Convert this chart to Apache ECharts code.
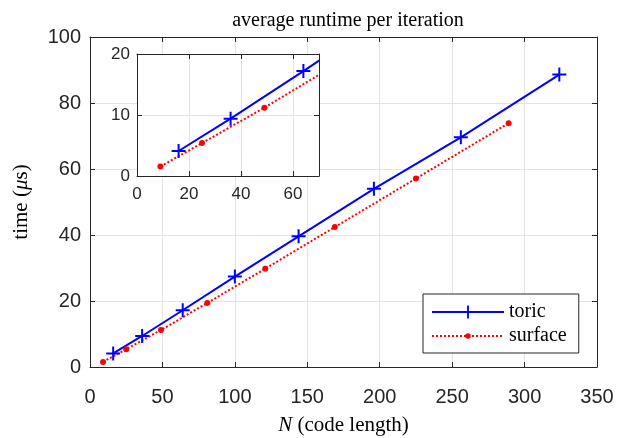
<!DOCTYPE html>
<html>
<head>
<meta charset="utf-8">
<script src="https://cdn.jsdelivr.net/npm/echarts@6/dist/echarts.min.js"></script>
<style>
  html, body { margin: 0; padding: 0; background: #fff; }
  #main { width: 619px; height: 438px; }
</style>
</head>
<body>
<div id="main"></div>
<script>
// code length N and runtime (us)
var toricN = [16, 36, 64, 100, 144, 196, 256, 324];
var toricTime = [4.1, 9.4, 17.2, 27.4, 39.6, 54.0, 69.6, 88.6];
var surfaceN = [9, 25, 49, 81, 121, 169, 225, 289];
var surfaceTime = [1.55, 5.4, 11.2, 19.4, 29.8, 42.4, 57.1, 73.9];

var chart = echarts.init(document.getElementById('main'));

var axisCol = '#262626';
var gridCol = '#e3e3e3';
var serif = 'Liberation Serif';
var sans = 'Liberation Sans';
var crossPath = 'path://M6,0h2v6h6v2h-6v6h-2v-6h-6v-2h6z';
// small dot inside a 14x14 box so the legend icon stays small too
var dotPath = 'path://M0,0M14,14M4,7a3,3 0 1,0 6,0a3,3 0 1,0 -6,0z';

function pairs(xs, ys) {
  return xs.map(function (x, i) { return [x, ys[i]]; });
}

function boxAxis(opts) {
  // shared look of axes: dark line, inward ticks
  return Object.assign({
    type: 'value',
    axisLine: { show: true, onZero: false, lineStyle: { color: axisCol, width: 1 } },
    axisTick: { show: true, inside: true, length: 5, lineStyle: { color: axisCol } },
    splitLine: { show: false },
    axisLabel: { show: false }
  }, opts);
}

function toricSeries(xi, yi, z) {
  return {
    name: 'toric', type: 'line', xAxisIndex: xi, yAxisIndex: yi, z: z,
    data: pairs(toricN, toricTime),
    symbol: crossPath, symbolSize: 14,
    lineStyle: { color: '#0000ff', width: 2 },
    itemStyle: { color: '#0000ff' },
    animation: false
  };
}

function surfaceSeries(xi, yi, z) {
  return {
    name: 'surface', type: 'line', xAxisIndex: xi, yAxisIndex: yi, z: z,
    data: pairs(surfaceN, surfaceTime),
    symbol: dotPath, symbolSize: 14,
    lineStyle: { color: '#ff0000', width: 2, type: [2, 2] },
    itemStyle: { color: '#ff0000' },
    animation: false
  };
}

chart.setOption({
  backgroundColor: '#fff',
  animation: false,
  title: {
    text: 'average runtime per iteration',
    left: 343, top: 6, textAlign: 'center',
    textStyle: { fontFamily: serif, fontSize: 20, fontWeight: 'normal', color: '#000' }
  },
  legend: {
    data: ['toric', 'surface'],
    orient: 'vertical',
    left: 423, top: 294,
    itemWidth: 72, itemHeight: 16, itemGap: 4,
    padding: [8, 12, 7, 8],
    borderColor: axisCol, borderWidth: 1,
    backgroundColor: '#fff',
    textStyle: { fontFamily: serif, fontSize: 20, color: '#000' }
  },
  grid: [
    { left: 90, top: 37, width: 507, height: 330, containLabel: false, outerBoundsMode: 'none' },
    { left: 137, top: 54, width: 182, height: 122, containLabel: false, outerBoundsMode: 'none',
      show: true, backgroundColor: '#fff', borderWidth: 0, z: 3 }
  ],
  xAxis: [
    boxAxis({
      gridIndex: 0, position: 'bottom', min: 0, max: 350, interval: 50,
      splitLine: { show: true, lineStyle: { color: gridCol } },
      axisLabel: { show: true, fontFamily: sans, fontSize: 20, color: axisCol, margin: 20 },
      name: '{it|N} (code length)', nameLocation: 'middle', nameGap: 48,
      nameTextStyle: { fontFamily: serif, fontSize: 21, color: '#000',
        rich: { it: { fontFamily: serif, fontSize: 21, fontStyle: 'italic', color: '#000' } } }
    }),
    boxAxis({ gridIndex: 0, position: 'top', min: 0, max: 350, interval: 50 }),
    boxAxis({
      gridIndex: 1, position: 'bottom', min: 0, max: 70, interval: 20, z: 3,
      splitLine: { show: true, lineStyle: { color: gridCol } },
      axisLabel: { show: true, fontFamily: sans, fontSize: 17, color: axisCol, margin: 10, showMaxLabel: false }
    }),
    boxAxis({ gridIndex: 1, position: 'top', min: 0, max: 70, interval: 20, z: 3,
      axisLabel: { show: false } })
  ],
  yAxis: [
    boxAxis({
      gridIndex: 0, position: 'left', min: 0, max: 100, interval: 20,
      splitLine: { show: true, lineStyle: { color: gridCol } },
      axisLabel: { show: true, fontFamily: sans, fontSize: 20, color: axisCol, margin: 9 },
      name: 'time ({it|μ}s)', nameLocation: 'middle', nameGap: 58,
      nameTextStyle: { fontFamily: serif, fontSize: 21, color: '#000',
        rich: { it: { fontFamily: serif, fontSize: 21, fontStyle: 'italic', color: '#000' } } }
    }),
    boxAxis({ gridIndex: 0, position: 'right', min: 0, max: 100, interval: 20 }),
    boxAxis({
      gridIndex: 1, position: 'left', min: 0, max: 20, interval: 10, z: 3,
      splitLine: { show: true, lineStyle: { color: gridCol } },
      axisLabel: { show: true, fontFamily: sans, fontSize: 17, color: axisCol, margin: 7 }
    }),
    boxAxis({ gridIndex: 1, position: 'right', min: 0, max: 20, interval: 10, z: 3 })
  ],
  series: [
    toricSeries(0, 0, 2),
    surfaceSeries(0, 0, 2),
    toricSeries(2, 2, 4),
    surfaceSeries(2, 2, 4)
  ]
});

window.addEventListener('resize', function () {
  chart.resize();
});
</script>
</body>
</html>
